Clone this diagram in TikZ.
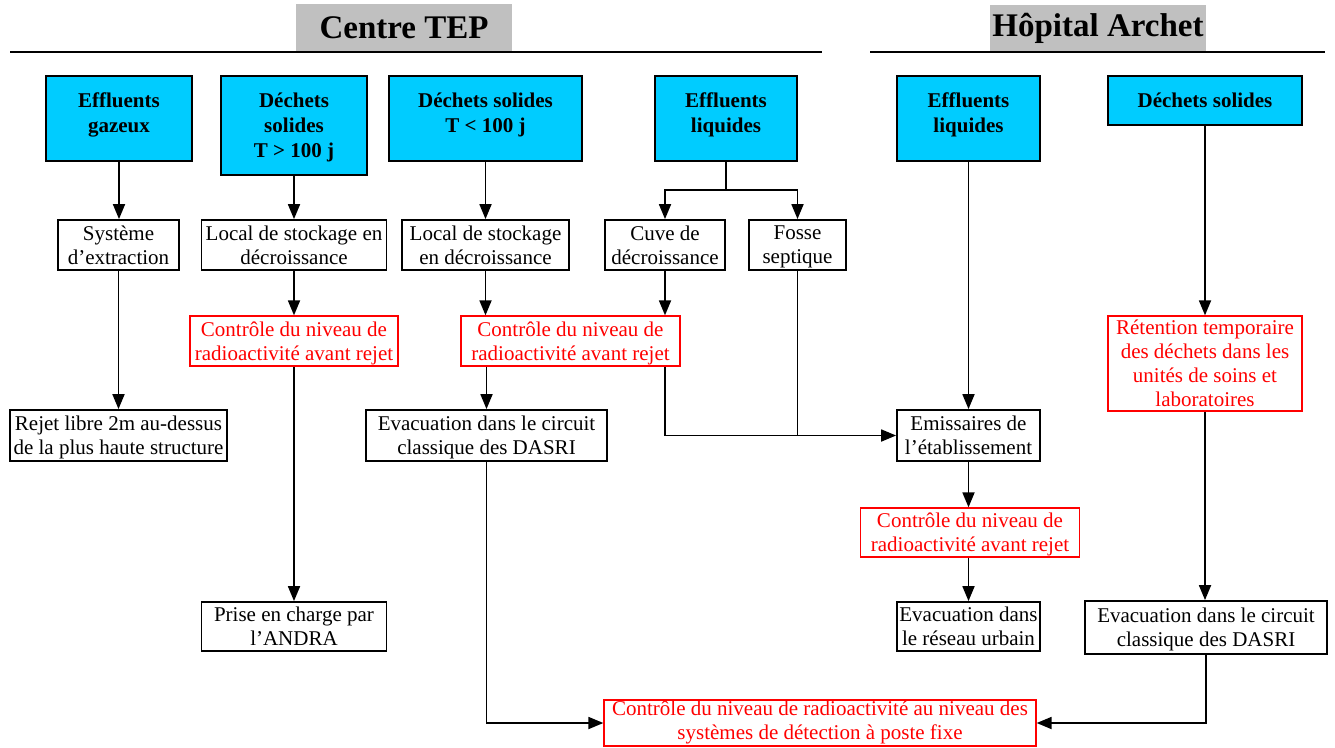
\documentclass[tikz,border=0pt]{standalone}
\usepackage{fontspec}
\setmainfont{Liberation Serif}
\usetikzlibrary{arrows.meta}
\definecolor{sourcecyan}{RGB}{0,204,255}
\definecolor{headergray}{RGB}{192,192,192}
\definecolor{checkred}{RGB}{255,0,0}

\begin{document}
\begin{tikzpicture}[x=1pt,y=-1pt,
    every node/.style={font=\fontsize{21}{24}\selectfont, align=center, inner sep=1pt, text depth=0pt},
    header/.style={fill=headergray, minimum width=216, minimum height=48, font=\fontsize{33}{36}\selectfont\bfseries},
    srcbox/.style={draw, line width=1.8, fill=sourcecyan, font=\fontsize{21}{25}\selectfont\bfseries},
    raised/.style={text depth=11pt},
    stepbox/.style={draw, line width=1.8, fill=white},
    checkbox/.style={draw=checkred, text=checkred, line width=1.3, fill=white},
    link/.style={line width=1.8},
    arr/.style={link, -{Triangle[length=15pt,width=12pt]}}]
    \useasboundingbox (0,0) rectangle (1335,747);

    % titles
    \node[header] (tep_title) at (404,28) {Centre TEP};
    \node[header, text depth=7pt] (archet_title) at (1098,28.5) {Hôpital Archet};
    \draw[line width=2] (10,52) -- (822,52);
    \draw[line width=2] (870,52) -- (1325,52);

    % sources
    \node[srcbox, raised, minimum width=146, minimum height=85] (gaz) at (119,118.5) {Effluents\\gazeux};
    \node[srcbox, minimum width=146, minimum height=99] (sol_long) at (294,125.5) {Déchets\\solides\\T > 100 j};
    \node[srcbox, raised, minimum width=193, minimum height=85] (sol_short) at (485.5,118.5) {Déchets solides\\T < 100 j};
    \node[srcbox, raised, minimum width=142, minimum height=85] (liq_tep) at (726,118.5) {Effluents\\liquides};
    \node[srcbox, raised, minimum width=143, minimum height=85] (liq_arch) at (968.5,118.5) {Effluents\\liquides};
    \node[srcbox, minimum width=194, minimum height=49] (sol_arch) at (1205,100.5) {Déchets solides};

    % treatment
    \node[stepbox, minimum width=121, minimum height=50] (extraction) at (118.5,245) {Système\\d’extraction};
    \node[stepbox, minimum width=185, minimum height=50] (stock_long) at (294,245) {Local de stockage en\\décroissance};
    \node[stepbox, minimum width=167, minimum height=50] (stock_short) at (485.5,245) {Local de stockage\\en décroissance};
    \node[stepbox, minimum width=120, minimum height=50] (cuve) at (665,245) {Cuve de\\décroissance};
    \node[stepbox, minimum width=97, minimum height=50] (fosse) at (797.5,245) {Fosse\\septique};

    \node[checkbox, minimum width=208, minimum height=50] (check_long) at (294,341) {Contrôle du niveau de\\radioactivité avant rejet};
    \node[checkbox, minimum width=219, minimum height=50] (check_short) at (570.5,341) {Contrôle du niveau de\\radioactivité avant rejet};
    \node[checkbox, minimum width=194, minimum height=95] (retention) at (1205,363.5) {Rétention temporaire\\des déchets dans les\\unités de soins et\\laboratoires};

    \node[stepbox, minimum width=217, minimum height=51] (rejet_libre) at (118.5,435.5) {Rejet libre 2m au-dessus\\de la plus haute structure};
    \node[stepbox, minimum width=241, minimum height=51] (dasri_tep) at (486.5,435.5) {Evacuation dans le circuit\\classique des DASRI};
    \node[stepbox, minimum width=143, minimum height=51] (emissaires) at (968.5,435.5) {Emissaires de\\l’établissement};

    \node[checkbox, minimum width=219, minimum height=49] (check_arch) at (970,532.5) {Contrôle du niveau de\\radioactivité avant rejet};

    % outcomes
    \node[stepbox, minimum width=185, minimum height=49] (andra) at (294,626.5) {Prise en charge par\\l’ANDRA};
    \node[stepbox, minimum width=143, minimum height=49] (urbain) at (968.5,626.5) {Evacuation dans\\le réseau urbain};
    \node[stepbox, minimum width=242, minimum height=53] (dasri_arch) at (1206,627.5) {Evacuation dans le circuit\\classique des DASRI};
    \node[checkbox, minimum width=432, minimum height=46, text depth=5pt] (check_final) at (820,723) {Contrôle du niveau de radioactivité au niveau des\\systèmes de détection à poste fixe};

    % connectors
    \draw[arr] (gaz) -- (gaz |- extraction.north);
    \draw[arr] (extraction) -- (extraction |- rejet_libre.north);
    \draw[arr] (sol_long) -- (sol_long |- stock_long.north);
    \draw[arr] (stock_long) -- (stock_long |- check_long.north);
    \draw[arr] (check_long) -- (check_long |- andra.north);
    \draw[arr] (sol_short) -- (sol_short |- stock_short.north);
    \draw[arr] (stock_short) -- (stock_short |- check_short.north);
    \draw[arr] (check_short.south -| dasri_tep) -- (dasri_tep);
    \coordinate (liq_split) at (726,190);
    \draw[link] (liq_tep) -- (liq_split);
    \draw[arr] (liq_split) -| (cuve);
    \draw[arr] (liq_split) -| (fosse);
    \draw[arr] (cuve) -- (cuve |- check_short.north);
    \draw[arr] (check_short.south -| cuve) |- (emissaires);
    \draw[link] (fosse) -- (fosse |- emissaires);
    \draw[arr] (liq_arch) -- (liq_arch |- emissaires.north);
    \draw[arr] (emissaires) -- (emissaires |- check_arch.north);
    \draw[arr] (check_arch.south -| urbain) -- (urbain);
    \draw[arr] (sol_arch) -- (sol_arch |- retention.north);
    \draw[arr] (retention) -- (retention |- dasri_arch.north);
    \draw[arr] (dasri_tep) |- (check_final);
    \draw[arr] (dasri_arch) |- (check_final);
\end{tikzpicture}
\end{document}
